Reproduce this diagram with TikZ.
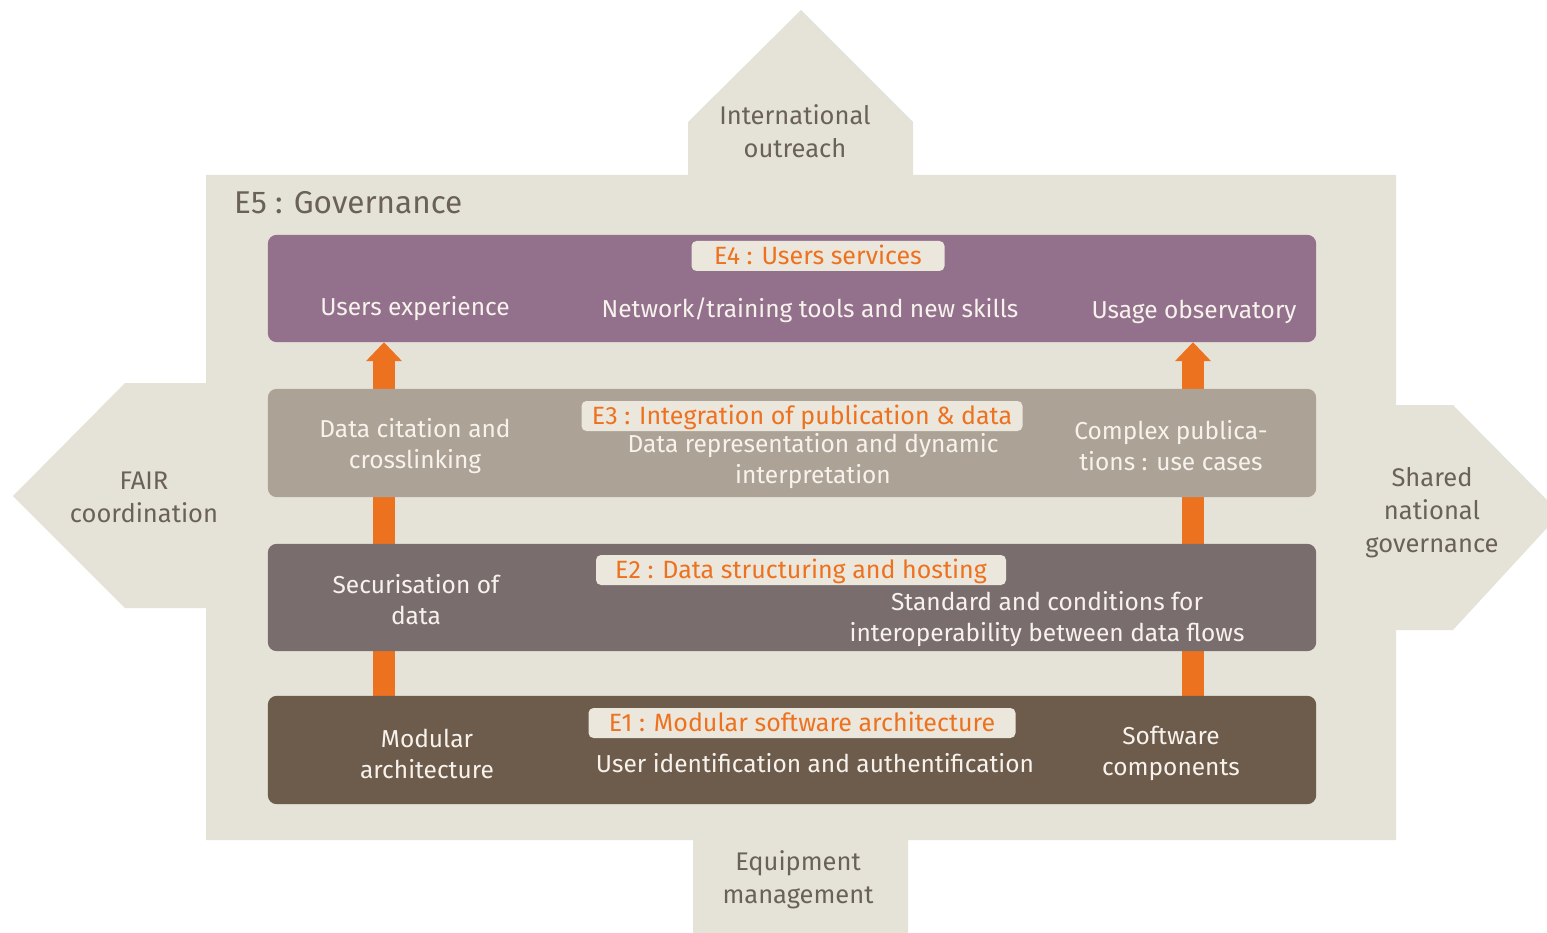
\documentclass[tikz,border=0pt]{standalone}
\usepackage{fontspec}
\setmainfont{Fira Sans}
\usetikzlibrary{arrows.meta}
\definecolor{bg}{HTML}{E5E3D8}
\definecolor{outtext}{HTML}{6A6158}
\definecolor{eFour}{HTML}{93718D}
\definecolor{eThree}{HTML}{ADA296}
\definecolor{eTwo}{HTML}{7A6D6E}
\definecolor{eOne}{HTML}{6D5B4C}
\definecolor{orng}{HTML}{EC7220}
\definecolor{lblbg}{HTML}{ECE7DC}
\definecolor{bandtext}{HTML}{F7F3EC}
\tikzset{
  band/.style={rounded corners=9pt, minimum width=1048pt, inner sep=0pt},
  lbl/.style={fill=lblbg, rounded corners=5pt, text=orng, font=\fontsize{25}{28}\selectfont, inner xsep=0pt, inner ysep=0pt, minimum height=30pt, text height=20pt, text depth=3pt},
  btext/.style={text=bandtext, align=center, font=\fontsize{24.5}{31}\selectfont, inner sep=0pt},
  otext/.style={text=outtext, align=center, font=\fontsize{25.5}{33}\selectfont, inner sep=0pt},
  uparrow/.style={draw=orng, line width=22pt, -{Triangle[width=35pt,length=19pt]}}
}
\begin{document}
\begin{tikzpicture}[x=1pt,y=-1pt]
\useasboundingbox (0,0) rectangle (1547,933);
% governance background with four outgoing arrows
\fill[bg] (206,175) -- (688,175) -- (688,122) -- (801,10) -- (913,122) -- (913,175)
  -- (1396,175) -- (1396,405) -- (1453,405) -- (1547,500) -- (1547,528) -- (1453,630)
  -- (1396,630) -- (1396,840) -- (908,840) -- (908,933) -- (693,933) -- (693,840)
  -- (206,840) -- (206,608) -- (125,608) -- (13,496) -- (125,383) -- (206,383) -- cycle;

\node[otext] (intl) at (795,131) {International\\outreach};
\node[otext] (fair) at (144,497) {FAIR\\coordination};
\node[otext] (shared) at (1432,513) {Shared\\national\\governance};
\node[otext] (equip) at (798,880) {Equipment\\management};
\node[text=outtext, font=\fontsize{31.5}{36}\selectfont, anchor=west, inner sep=0pt] (e5) at (234,203) {E5 : Governance};

% band geometry (nodes used as anchors for the arrows)
\coordinate (lx) at (384,0);
\coordinate (rx) at (1193,0);
\path (792,288.5) node[band, minimum height=107pt] (e4) {};
\path (792,443) node[band, minimum height=108pt] (e3) {};
\path (792,597.5) node[band, minimum height=107pt] (e2) {};
\path (792,750) node[band, minimum height=108pt] (e1) {};

% orange arrows (behind the bands)
\draw[uparrow] (e1.north -| lx) -- (e4.south -| lx);
\draw[uparrow] (e1.north -| rx) -- (e4.south -| rx);

% bands
\fill[eFour, rounded corners=9pt] (e4.south west) rectangle (e4.north east);
\fill[eThree, rounded corners=9pt] (e3.south west) rectangle (e3.north east);
\fill[eTwo, rounded corners=9pt] (e2.south west) rectangle (e2.north east);
\fill[eOne, rounded corners=9pt] (e1.south west) rectangle (e1.north east);

% E4
\node[lbl, minimum width=253pt] (l4) at (818,256) {E4 : Users services};
\node[btext] (t4a) at (415,309) {Users experience};
\node[btext] (t4b) at (810,310) {Network/training tools and new skills};
\node[btext] (t4c) at (1194,312) {Usage observatory};
% E3
\node[lbl, minimum width=441pt] (l3) at (802,416) {E3 : Integration of publication \& data};
\node[btext] (t3a) at (415,446) {Data citation and\\crosslinking};
\node[btext] (t3b) at (813,461) {Data representation and dynamic\\interpretation};
\node[btext] (t3c) at (1171,446) {Complex publica-\\tions : use cases};
% E2
\node[lbl, minimum width=410pt] (l2) at (801,570) {E2 : Data structuring and hosting};
\node[btext] (t2a) at (416,600) {Securisation of\\data};
\node[btext] (t2b) at (1047,619) {Standard and conditions for\\interoperability between data flows};
% E1
\node[lbl, minimum width=427pt] (l1) at (802,723) {E1 : Modular software architecture};
\node[btext] (t1a) at (427,754) {Modular\\architecture};
\node[btext] (t1b) at (815,763) {User identification and authentification};
\node[btext] (t1c) at (1171,753) {Software\\components};
\end{tikzpicture}
\end{document}
